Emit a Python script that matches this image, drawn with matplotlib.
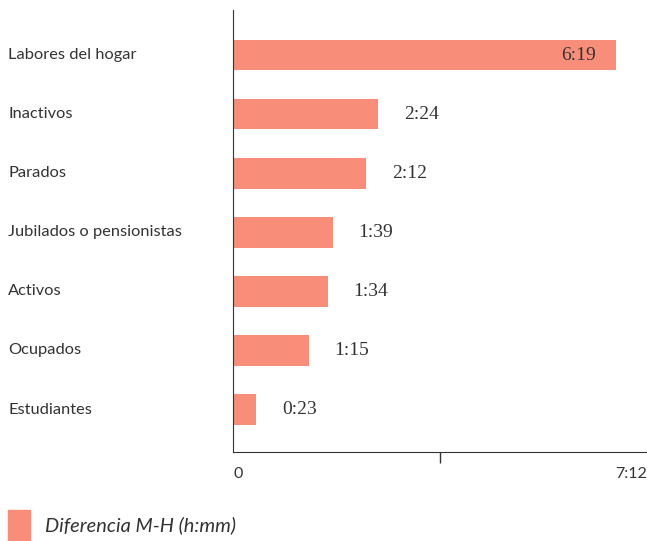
import matplotlib.pyplot as plt
from matplotlib.patches import Rectangle

# Data (minutes)
categories = ['Labores del hogar', 'Inactivos', 'Parados', 'Jubilados o pensionistas',
              'Activos', 'Ocupados', 'Estudiantes']
minutes = [379, 144, 132, 99, 94, 75, 23]
value_labels = ['6:19', '2:24', '2:12', '1:39', '1:34', '1:15', '0:23']
x_max = 410
tick_pos = [0, 205, x_max]
tick_labels = ['0', '', '7:12']
legend_label = 'Diferencia M-H (h:mm)'

bar_color = '#F88D7A'
text_color = '#333333'

fig = plt.figure(figsize=(6.47, 5.41), dpi=100)
ax = fig.add_axes([233 / 647, 1 - 452 / 541, 414 / 647, 442 / 541])

y = list(range(len(categories)))[::-1]
ax.barh(y, minutes, height=0.51, color=bar_color)
ax.set_xlim(0, x_max)
ax.set_ylim(-0.72, len(categories) - 1 + 0.77)

# value labels
for yi, m, lab in zip(y, minutes, value_labels):
    if m > x_max * 0.6:
        ax.annotate(lab, (m, yi), xytext=(-14, 0), textcoords='offset points',
                    ha='right', va='center', fontsize=14, family='Liberation Serif',
                    color=text_color)
    else:
        ax.annotate(lab, (m, yi), xytext=(31, 0), textcoords='offset points',
                    ha='center', va='center', fontsize=14, family='Liberation Serif',
                    color=text_color)

# category labels at the left edge of the figure
for yi, cat in zip(y, categories):
    ax.annotate(cat, (0, yi), xycoords=('figure pixels', 'data'), xytext=(8, 0),
                textcoords='offset pixels', ha='left', va='center', fontsize=11.8,
                family='Lato', color=text_color)

ax.set_yticks([])
for side in ['top', 'right']:
    ax.spines[side].set_visible(False)
ax.spines['left'].set_color(text_color)
ax.spines['bottom'].set_color(text_color)

ax.set_xticks(tick_pos)
ax.set_xticklabels(tick_labels, family='Lato', fontsize=11.5, color=text_color)
ax.tick_params(axis='x', length=8, width=1, color=text_color, pad=3)
ticks = ax.xaxis.get_major_ticks()
ticks[0].tick1line.set_visible(False)
ticks[-1].tick1line.set_visible(False)
ticks[0].label1.set_horizontalalignment('left')
ticks[-1].label1.set_horizontalalignment('right')

# legend
fig.add_artist(Rectangle((8 / 647, 1 - 541 / 541), 22 / 647, 31 / 541,
                         transform=fig.transFigure, color=bar_color))
fig.text(45 / 647, 1 - 525 / 541, legend_label, ha='left', va='center',
         fontsize=14.4, style='italic', family='Lato', color=text_color)

fig.savefig('out.png', dpi=100)
